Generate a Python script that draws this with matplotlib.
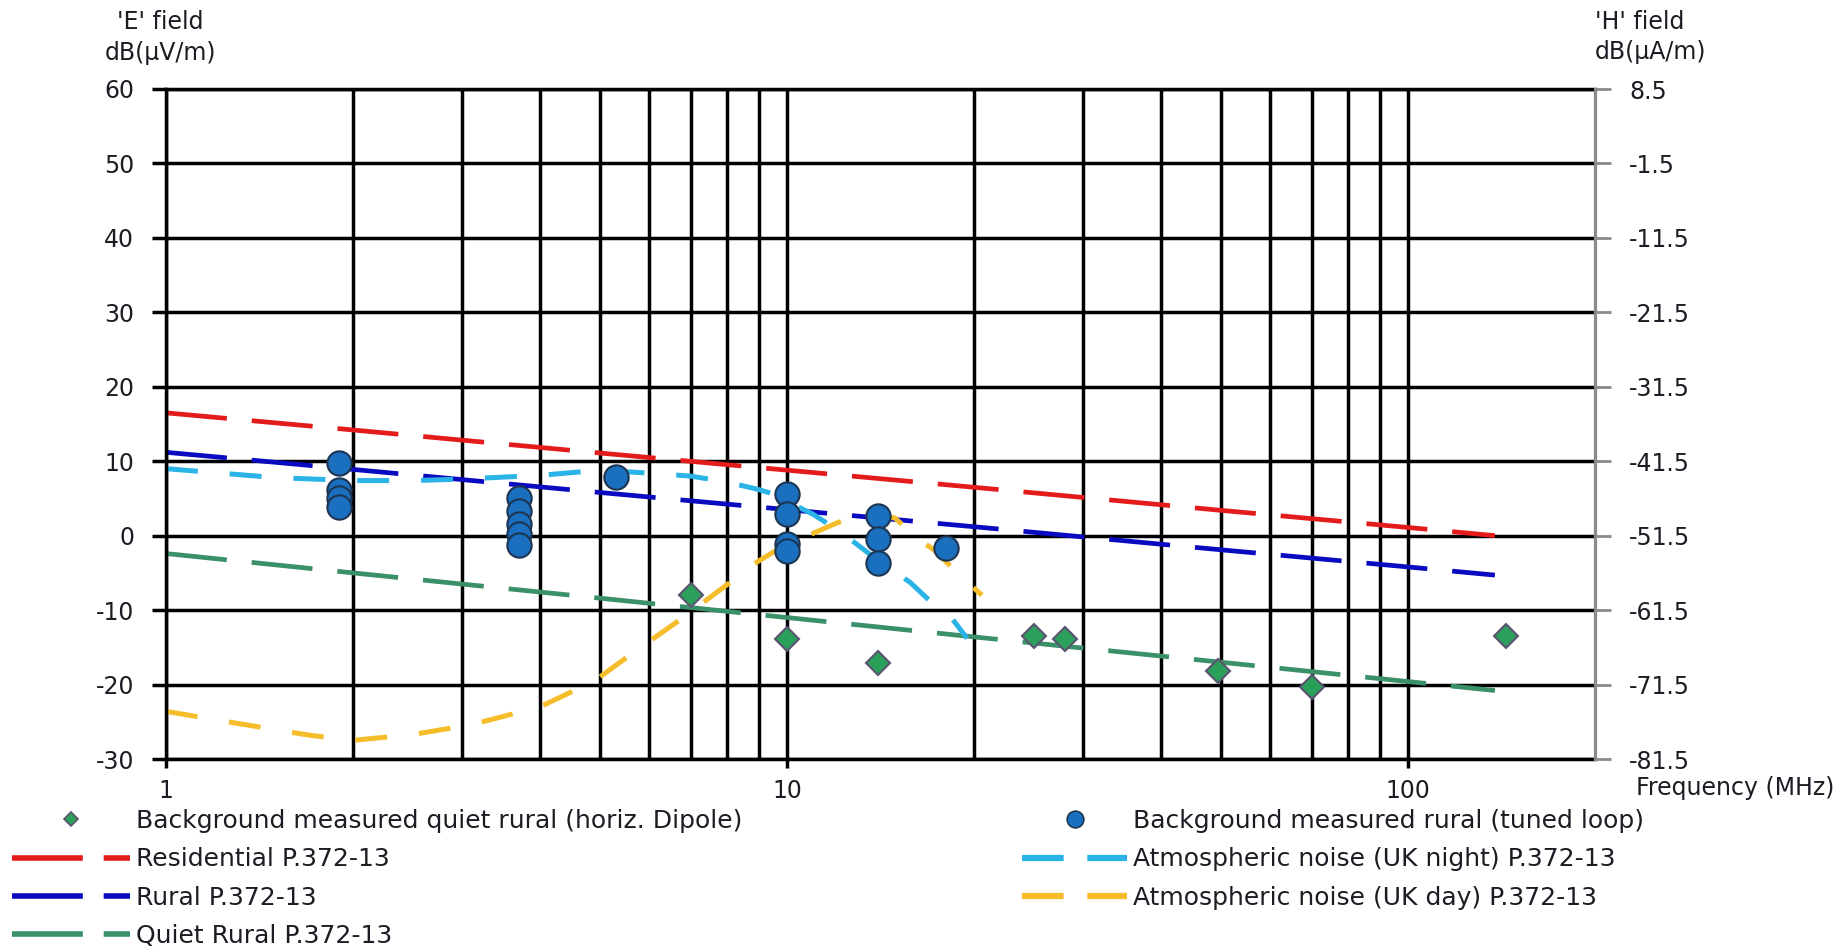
import numpy as np
import matplotlib.pyplot as plt
from matplotlib.lines import Line2D
from matplotlib.ticker import FixedLocator, NullFormatter

plt.rcParams['font.family'] = ['DejaVu Sans']
plt.rcParams['lines.scale_dashes'] = False
plt.rcParams['axes.unicode_minus'] = False

# man-made noise lines (P.372-13)
freq_mm = [1, 2, 5, 10, 20, 50, 100, 138]
residential = [16.5, 14.2, 11.1, 8.8, 6.5, 3.4, 1.1, 0.0]
rural = [11.2, 8.9, 5.8, 3.5, 1.2, -1.9, -4.2, -5.3]
quiet_rural = [-2.4, -5.0, -8.4, -11.0, -13.6, -17.0, -19.6, -20.8]

# atmospheric noise, UK night
freq_night = [1, 1.5, 2, 2.5, 3, 4, 5, 6, 7, 8, 9, 9.5, 10, 11, 12.2, 14, 15.8, 17, 18.5, 19.5]
night = [9.0, 7.8, 7.4, 7.4, 7.6, 8.1, 8.8, 8.4, 8.0, 7.2, 6.2, 5.6, 4.6, 2.9, 0.5, -3.3, -6.3, -8.8, -11.3, -13.8]

# atmospheric noise, UK day
freq_day = [1, 1.3, 1.7, 2, 2.5, 3.1, 4, 4.9, 5.7, 6.7, 8, 9, 9.6, 10.8, 12.1, 13.5, 14.9, 16.3, 17.3, 18.9, 20.6]
day = [-23.6, -25.2, -26.8, -27.5, -26.7, -25.4, -23.0, -19.5, -15.5, -11.4, -6.6, -3.4, -2.0, 0.0, 1.8, 2.6, 2.4, -0.5, -2.0, -5.2, -8.0]

# measured: tuned loop (rural)
loop_f = [1.9, 1.9, 1.9, 1.9, 3.7, 3.7, 3.7, 3.7, 3.7, 5.3, 10, 10, 10, 10, 14, 14, 14, 18]
loop_e = [9.7, 6.1, 5.0, 3.8, 5.0, 3.3, 1.5, 0.2, -1.2, 7.9, 5.6, 2.9, -1.1, -2.0, 2.7, -0.5, -3.7, -1.6]

# measured: horizontal dipole (quiet rural)
dip_f = [7, 10, 14, 25, 28, 49.5, 70, 144]
dip_e = [-8.0, -13.9, -17.1, -13.5, -13.9, -18.2, -20.3, -13.5]

e_ticks = [-30, -20, -10, 0, 10, 20, 30, 40, 50, 60]
h_ticks = [-81.5, -71.5, -61.5, -51.5, -41.5, -31.5, -21.5, -11.5, -1.5, 8.5]

c_red = '#e31b1b'
c_blue = '#0a0ac0'
c_green = '#3a9068'
c_cyan = '#2ab3e6'
c_yellow = '#f6bd2a'
txt = '#1c1c24'

fig = plt.figure(figsize=(18.45, 9.46), dpi=100)
W, H = 1845.0, 946.0
ax = fig.add_axes([166 / W, 1 - 759 / H, (1595 - 166) / W, (759 - 89) / H])

ax.set_xscale('log')
ax.set_xlim(1, 200)
ax.set_ylim(-30, 60)
ax.xaxis.set_major_locator(FixedLocator([1, 10, 100]))
ax.xaxis.set_minor_locator(FixedLocator([2, 3, 4, 5, 6, 7, 8, 9, 20, 30, 40, 50, 60, 70, 80, 90]))
ax.xaxis.set_minor_formatter(NullFormatter())
ax.set_xticklabels(['1', '10', '100'])
ax.set_yticks(e_ticks)
ax.grid(which='both', axis='x', color='black', lw=2.5)
ax.grid(which='major', axis='y', color='black', lw=2.5)
ax.tick_params(axis='x', which='major', length=6.5, width=2.5, color='black', pad=8, labelsize=17, labelcolor=txt)
ax.tick_params(axis='x', which='minor', length=0)
ax.tick_params(axis='y', length=10, width=2.5, color='black', pad=13, labelsize=17, labelcolor=txt)
for s in ['left', 'top', 'bottom']:
    ax.spines[s].set_linewidth(2.5)
    ax.spines[s].set_color('black')
ax.spines['right'].set_visible(False)

ax.plot(freq_mm, residential, color=c_red, lw=3.4, dashes=(44, 18))
ax.plot(freq_mm, rural, color=c_blue, lw=3.4, dashes=(44, 18))
ax.plot(freq_mm, quiet_rural, color=c_green, lw=3.4, dashes=(44, 18))
ax.plot(freq_night, night, color=c_cyan, lw=3.6, dashes=(23, 23))
ax.plot(freq_day, day, color=c_yellow, lw=3.6, dashes=(23, 23))

ax.plot(dip_f, dip_e, ls='none', marker='D', ms=12, mfc='#2aa05a', mec='#5b5470', mew=1.5, zorder=5)
ax.plot(loop_f, loop_e, ls='none', marker='o', ms=17.5, mfc='#1a6fbf', mec='#1d3550', mew=1.5, zorder=5)

ax2 = ax.twinx()
ax2.set_ylim(-81.5, 8.5)
ax2.set_yticks(h_ticks)
ax2.set_yticklabels(['{:.1f}'.format(v) for v in h_ticks])
ax2.tick_params(axis='y', length=11.5, width=2, color='#8a8a8a', pad=13, labelsize=17, labelcolor=txt)
for s in ['left', 'top', 'bottom']:
    ax2.spines[s].set_visible(False)
ax2.spines['right'].set_color('#8a8a8a')
ax2.spines['right'].set_linewidth(2.3)

fig.text(160 / W, 1 - 22 / H, "'E' field", ha='center', va='center', fontsize=17, color=txt)
fig.text(160 / W, 1 - 53 / H, "dB(\u00b5V/m)", ha='center', va='center', fontsize=17, color=txt)
fig.text(1595 / W, 1 - 22 / H, "'H' field", ha='left', va='center', fontsize=17, color=txt)
fig.text(1595 / W, 1 - 52 / H, "dB(\u00b5A/m)", ha='left', va='center', fontsize=17, color=txt)
fig.text(1834 / W, 1 - 788 / H, "Frequency (MHz)", ha='right', va='center', fontsize=17, color=txt)

h_dip = Line2D([], [], ls='none', marker='D', ms=7, mfc='#2aa05a', mec='#5b5470', mew=1.2)
h_loop = Line2D([], [], ls='none', marker='o', ms=12, mfc='#1a6fbf', mec='#1d3550', mew=1.2)
h_res = Line2D([], [], color=c_red, lw=4, dashes=(51, 15))
h_rur = Line2D([], [], color=c_blue, lw=4, dashes=(51, 15))
h_qui = Line2D([], [], color=c_green, lw=4, dashes=(51, 15))
h_nig = Line2D([], [], color=c_cyan, lw=4.5, dashes=(30, 17))
h_day = Line2D([], [], color=c_yellow, lw=4.5, dashes=(30, 17))

leg_kw = dict(frameon=False, fontsize=18, borderpad=0, borderaxespad=0,
              handletextpad=0.25, labelspacing=0.57, labelcolor=txt, loc='upper left')
fig.legend([h_dip, h_res, h_rur, h_qui],
           ['Background measured quiet rural (horiz. Dipole)', 'Residential P.372-13',
            'Rural P.372-13', 'Quiet Rural P.372-13'],
           bbox_to_anchor=(12 / W, 1 - 809 / H), handlelength=4.7, **leg_kw)
fig.legend([h_loop, h_nig, h_day],
           ['Background measured rural (tuned loop)', 'Atmospheric noise (UK night) P.372-13',
            'Atmospheric noise (UK day) P.372-13'],
           bbox_to_anchor=(1022 / W, 1 - 809 / H), handlelength=4.2, **leg_kw)

fig.savefig('out.png', dpi=100)
